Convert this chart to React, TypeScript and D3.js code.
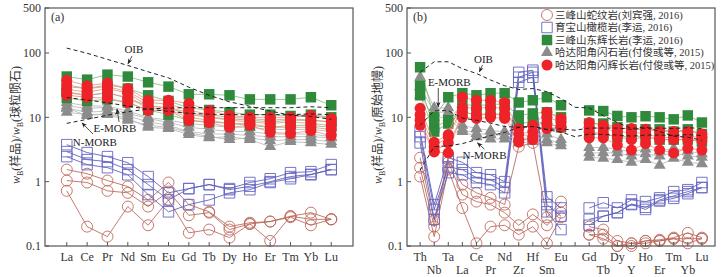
import React from 'react';
import * as d3 from 'd3';

// element order for the two diagrams
const REE = ['La', 'Ce', 'Pr', 'Nd', 'Sm', 'Eu', 'Gd', 'Tb', 'Dy', 'Ho', 'Er', 'Tm', 'Yb', 'Lu'];
const SPIDER = ['Th', 'Nb', 'Ta', 'La', 'Ce', 'Pr', 'Nd', 'Zr', 'Hf', 'Sm', 'Eu', 'Ti', 'Gd', 'Tb', 'Dy', 'Y', 'Ho', 'Er', 'Tm', 'Yb', 'Lu'];
const SPIDER_HIDDEN = ['Ti'];
const Y_TICKS = [0.1, 1, 10, 100, 500];

// (a) chondrite normalised REE
const reeSerpentinite = [
  [1.54, 1.33, 1.04, 0.84, 0.52, 0.97, 0.44, 0.34, 0.2, 0.23, 0.24, 0.29, 0.33, 0.26],
  [1.04, 0.97, 0.72, 0.67, 0.41, 0.7, 0.3, 0.33, 0.18, 0.22, 0.24, 0.28, 0.21, 0.26],
  [0.72, 0.2, 0.14, 0.41, 0.21, 0.52, 0.16, 0.18, 0.135, 0.22, 0.12, 0.29, 0.26, 0.26],
];
const reePeridotite = [
  [3.76, 2.83, 2.45, 1.97, 1.2, 0.67, 0.78, 0.9, 0.78, 0.97, 1.11, 1.38, 1.43, 1.84],
  [2.93, 2.2, 2.05, 1.54, 0.9, 0.52, 0.78, 0.9, 0.75, 0.85, 1.0, 1.2, 1.3, 1.54],
  [2.45, 1.84, 1.65, 1.28, 0.63, 0.34, 0.44, 0.52, 0.67, 0.75, 0.97, 1.11, 1.28, 1.54],
];
const reeHornblendite = [
  [17, 15, 15, 12.5, 10, 9, 8, 7.5, 7, 7, 6.5, 6.5, 6.5, 6],
  [15, 13.8, 14.3, 11.5, 9.6, 8.3, 7, 6.5, 6, 6, 5.5, 5.5, 5.5, 5],
  [14, 12, 12.5, 10.5, 8.5, 7.5, 6, 5.5, 5.5, 5.2, 5, 5, 5, 4.8],
  [13.8, 10.7, 11.5, 9.6, 7, 6.7, 5.4, 4.8, 5, 4.5, 3.5, 4.2, 4, 3.8],
  [12, 11, 11, 9, 7.5, 7, 5.8, 5, 4.5, 4.8, 4.3, 4.5, 4.5, 4.2],
];
const reeGabbro = [
  [43, 38.5, 46, 43, 35, 30, 22.8, 22.8, 22, 19, 19, 19, 20.5, 15.4],
  [30, 28, 32, 28, 22, 18, 14, 13, 12, 11, 11, 10.5, 11, 10],
  [25, 22, 24, 20, 15, 14, 11, 10, 9.5, 9, 8.5, 9, 9, 8.5],
  [20, 18, 19, 17, 13, 11, 9, 8.5, 8, 7.5, 7, 7.5, 7.5, 7],
];
const reeHbGabbro = [
  [37.6, 31, 34, 28, 18.4, 18.4, 16.4, 12.8, 10.7, 10, 10, 10, 10.7, 9.6],
  [32, 28, 30, 25, 17, 16, 13, 11, 10, 9.6, 9, 9.5, 9, 8.5],
  [27.3, 24.5, 28, 23.7, 15, 14, 12, 10, 9, 8.5, 8, 8.5, 8, 7.5],
  [22, 20.5, 19.8, 17, 12.8, 12.8, 8.9, 8.3, 7, 7.5, 5.85, 5.6, 6.2, 5.2],
  [24, 22, 24, 20, 14, 13, 10, 9, 8, 8, 7, 7, 7, 6.5],
];
const reeOIB = [119, 99, 79.5, 64, 51, 41, 29.4, 22, 17.4, 14.8, 12.5, 10.8, 10.3, 9.3];
const reeEMORB = [20.3, 18.6, 16.8, 15, 13.3, 12.4, 11.5, 11.2, 11, 11, 11, 11, 11.3, 11];
const reeNMORB = [8.06, 9.3, 10.8, 12.2, 13.5, 13.9, 14.2, 14.1, 14.1, 14.1, 14.1, 14.1, 14.6, 14.1];

// (b) primitive mantle normalised trace elements (Ti not analysed)
const tr = null;
const spSerpentinite = [
  [2.36, 0.25, 2.2, 0.9, 0.67, 0.56, 0.44, 3.5, 4, 0.28, 0.49, tr, 0.2, 0.18, 0.12, 0.11, 0.12, 0.125, 0.135, 0.16, 0.135],
  [1.65, 0.2, 2.0, 0.63, 0.49, 0.44, 0.33, 0.21, 0.31, 0.21, 0.33, tr, 0.15, 0.15, 0.1, 0.1, 0.12, 0.12, 0.13, 0.13, 0.13],
  [1.2, 0.14, 1.54, 0.39, 0.11, 0.2, 0.21, 0.15, 0.2, 0.11, 0.28, tr, 0.15, 0.13, 0.1, 0.11, 0.11, 0.12, 0.13, 0.11, 0.13],
];
const spPeridotite = [
  [6, 0.44, 2.36, 2.0, 1.38, 1.28, 1.0, 50, 54, 0.58, 0.39, tr, 0.39, 0.47, 0.39, 0.52, 0.49, 0.56, 0.7, 0.75, 0.97],
  [5, 0.37, 1.7, 1.54, 1.15, 1.07, 0.81, 42, 50, 0.44, 0.29, tr, 0.26, 0.29, 0.33, 0.45, 0.4, 0.52, 0.6, 0.7, 0.81],
  [4, 0.26, 1.38, 1.28, 0.97, 0.9, 0.67, 35, 42, 0.34, 0.18, tr, 0.21, 0.29, 0.33, 0.44, 0.37, 0.5, 0.55, 0.65, 0.81],
];
const spHornblendite = [
  [42, 14, 14, 7.5, 6.7, 6.2, 6, 5, 5.5, 5.5, 4.5, tr, 3.4, 3.4, 3.2, 2.9, 3.2, 3, 3.3, 3, 2.7],
  [30, 12, 12, 6.5, 5.6, 5.4, 5.2, 4.5, 5, 4.5, 4, tr, 2.8, 2.8, 2.8, 2.5, 2.7, 2.5, 2.8, 2.5, 2.4],
  [22, 10, 10, 6, 5, 4.6, 4.6, 4, 4.2, 4, 3.6, tr, 2.4, 2.3, 2.2, 2, 2.2, 1.8, 2.3, 2, 1.9],
];
const spGabbro = [
  [60, 10, 20.5, 23.7, 22, 23.7, 23.7, 17, 18.4, 20.5, 15.4, tr, 12.8, 12.5, 10.5, 10, 10.4, 10, 9.3, 10.7, 8.3],
  [31, 7, 9, 16, 15, 16, 16, 10.7, 11.5, 12, 10, tr, 8, 8, 7, 6.5, 6.5, 6.5, 6, 6.5, 5.5],
  [22, 6, 8, 12, 11, 11.5, 11, 8, 8.5, 8, 7, tr, 5.5, 5.5, 5, 5, 5, 4.5, 4.5, 4.5, 4.2],
];
const spHbGabbro = [
  [13.8, 4.1, 5.4, 20.5, 18.4, 18.4, 17, 6.7, 7.5, 12, 9.6, tr, 8.3, 7.5, 6.7, 6.7, 6.5, 6, 6, 6, 5.5],
  [11, 3.5, 5, 14.3, 13.8, 14.3, 13.8, 5.5, 6, 10, 8.5, tr, 7, 6.7, 6, 5.8, 5.6, 4.8, 4.9, 5, 4.9],
  [9, 3, 4, 10, 9.6, 10, 9.6, 4.1, 5, 8, 7, tr, 6, 5.5, 5, 4.5, 5, 4.5, 4.5, 4.5, 4.3],
  [7.5, 2.9, 2.8, 12, 11, 11, 11, 4.5, 4.5, 6.7, 7, tr, 4.8, 4.8, 3.7, 3.1, 3.9, 3.1, 2.8, 3.3, 3.1],
];
const spOIB = [50, 73, 73, 57, 48, 38, 31, 27, 28, 25, 19.5, 14.3, 14, 10.6, 8.3, 6.7, 7.1, 6, 5.1, 4.9, 4.4];
const spEMORB = [7.5, 12.6, 12.7, 9.7, 9, 8.1, 7.2, 7, 7.2, 6.4, 5.9, 5, 5.5, 5.4, 5.3, 5.1, 5.3, 5.3, 5.2, 5.4, 5.2];
const spNMORB = [1.5, 3.5, 3.6, 3.9, 4.5, 5.2, 5.8, 7, 7.2, 6.5, 6.6, 6.3, 6.8, 6.8, 6.8, 6.5, 6.8, 6.8, 6.7, 6.9, 6.7];

// legend entries: label and index into styles
const legendLabels = [
  '三峰山蛇纹岩(刘宾强, 2016)',
  '育宝山橄榄岩(李运, 2016)',
  '三峰山东辉长岩(李运, 2016)',
  '哈达阳角闪石岩(付俊彧等, 2015)',
  '哈达阳角闪辉长岩(付俊彧等, 2015)',
];
const legendStyle = [0, 1, 3, 2, 4];

const SERIF = '"Liberation Serif", "Times New Roman", "Noto Sans CJK SC", serif';

type Style = { shape: 'circle' | 'square' | 'triangle'; filled: boolean; color: string; line: string };
const styles: Style[] = [
  { shape: 'circle', filled: false, color: '#c06a5c', line: '#b25a4c' },
  { shape: 'square', filled: false, color: '#6666c4', line: '#4f4fb2' },
  { shape: 'triangle', filled: true, color: '#8c8c8c', line: '#b4b4b4' },
  { shape: 'square', filled: true, color: '#2f8b3b', line: '#79bb79' },
  { shape: 'circle', filled: true, color: '#ee2229', line: '#f08a78' },
];

function symbolPath(shape: Style['shape']) {
  if (shape === 'circle') return d3.symbol(d3.symbolCircle, 95)()!;
  if (shape === 'square') return d3.symbol(d3.symbolSquare, 110)()!;
  return d3.symbol(d3.symbolTriangle, 62)()!;
}

function Marker({ s, x, y }: { s: Style; x: number; y: number }) {
  return (
    <path
      d={symbolPath(s.shape)}
      transform={`translate(${x},${y})`}
      fill={s.filled ? s.color : 'none'}
      stroke={s.filled ? 'none' : s.color}
      strokeWidth={0.9}
    />
  );
}

type Note = { text: string; at: [number, number]; tail: [number, number]; head: [number, number] };

interface PanelProps {
  id: string;
  left: number;
  cats: string[];
  pad: number;
  groups: (number | null)[][][];
  refs: number[][];
  notes: Note[];
  letter: string;
  norm: string;
  twoRows: boolean;
}

const y = d3.scaleLog().domain([0.1, 500]).range([246, 8]);

function Panel({ id, left, cats, pad, groups, refs, notes, letter, norm, twoRows }: PanelProps) {
  const width = 308;
  const x = d3.scaleLinear().domain([-pad, cats.length - 1 + pad]).range([left, left + width]);
  const line = d3.line<number | null>()
    .defined(d => d != null)
    .x((_, i) => x(i))
    .y(d => y(d as number));

  return (
    <g>
      <defs>
        <marker id={`arr-${id}`} viewBox="0 0 10 10" refX="9" refY="5" markerWidth="7" markerHeight="7" orient="auto">
          <path d="M0,1 L10,5 L0,9 L3,5 Z" fill="#222" />
        </marker>
      </defs>
      {/* series */}
      {groups.map((rows, gi) => (
        <g key={gi}>
          {rows.map((r, ri) => (
            <path key={ri} d={line(r) || ''} fill="none" stroke={styles[gi].line} strokeWidth={0.8} />
          ))}
          {rows.map((r, ri) =>
            r.map((v, i) => (v == null ? null : <Marker key={`${ri}-${i}`} s={styles[gi]} x={x(i)} y={y(v)} />))
          )}
        </g>
      ))}
      {/* reference curves */}
      {refs.map((r, i) => (
        <path key={i} d={line(r) || ''} fill="none" stroke="#222" strokeWidth={1} strokeDasharray="4,3" />
      ))}
      {notes.map((n, i) => (
        <g key={i}>
          <line
            x1={x(n.tail[0])} y1={y(n.tail[1])} x2={x(n.head[0])} y2={y(n.head[1])}
            stroke="#222" strokeWidth={0.8} markerEnd={`url(#arr-${id})`}
          />
          <text x={x(n.at[0])} y={y(n.at[1])} dy="0.35em" textAnchor="middle" fontSize={11} fontFamily={SERIF} fill="#222">
            {n.text}
          </text>
        </g>
      ))}
      {/* frame and ticks */}
      <rect x={left} y={8} width={width} height={238} fill="none" stroke="#555" strokeWidth={1.2} />
      {Y_TICKS.map(t => (
        <g key={t}>
          <line x1={left} x2={left + 4} y1={y(t)} y2={y(t)} stroke="#555" />
          <text x={left - 4} y={y(t)} dy="0.35em" textAnchor="end" fontSize={12} fontFamily={SERIF} fill="#333">
            {t}
          </text>
        </g>
      ))}
      {cats.map((c, i) => (
        <g key={c + i}>
          <line x1={x(i)} x2={x(i)} y1={246} y2={242} stroke="#555" />
          {SPIDER_HIDDEN.includes(c) ? null : (
            <text
              x={x(i)}
              y={twoRows && i % 2 === 1 ? 274 : 261}
              textAnchor="middle"
              fontSize={12}
              fontFamily={SERIF}
              fill="#333"
            >
              {c}
            </text>
          )}
        </g>
      ))}
      <text x={left + 6} y={21} fontSize={12} fontFamily={SERIF} fill="#333">{letter}</text>
      <text
        transform={`translate(${left - 25},125) rotate(-90)`}
        textAnchor="middle"
        fontSize={12}
        fontFamily={SERIF}
        fill="#333"
      >
        <tspan fontStyle="italic">w</tspan>
        <tspan fontSize={8} dy={3}>B</tspan>
        <tspan dy={-3}>(样品)/</tspan>
        <tspan fontStyle="italic">w</tspan>
        <tspan fontSize={8} dy={3}>B</tspan>
        <tspan dy={-3}>({norm})</tspan>
      </text>
    </g>
  );
}

function Legend() {
  return (
    <g>
      {legendLabels.map((t, i) => {
        const yy = 15 + i * 12.5;
        return (
          <g key={t}>
            <Marker s={styles[legendStyle[i]]} x={547} y={yy} />
            <text x={555} y={yy} dy="0.35em" fontSize={10.5} fontFamily={SERIF} fill="#333">{t}</text>
          </g>
        );
      })}
    </g>
  );
}

export default function App() {
  return (
    <svg width={721} height={277} style={{ position: 'fixed', left: 0, top: 0, background: '#fff' }}>
      <Panel
        id="a"
        left={45}
        cats={REE}
        pad={1.07}
        groups={[reeSerpentinite, reePeridotite, reeHornblendite, reeGabbro, reeHbGabbro]}
        refs={[reeOIB, reeEMORB, reeNMORB]}
        notes={[
          { text: 'OIB', at: [3.3, 116], tail: [3.21, 90], head: [3.01, 68] },
          { text: 'E-MORB', at: [2.37, 6.84], tail: [2.57, 8.5], head: [2.47, 13.5] },
          { text: 'N-MORB', at: [1.38, 4.14], tail: [1.29, 5.5], head: [0.75, 8.2] },
        ]}
        letter="(a)"
        norm="球粒陨石"
        twoRows={false}
      />
      <Panel
        id="b"
        left={407}
        cats={SPIDER}
        pad={0.93}
        groups={[spSerpentinite, spPeridotite, spHornblendite, spGabbro, spHbGabbro]}
        refs={[spOIB, spEMORB, spNMORB]}
        notes={[
          { text: 'OIB', at: [4.5, 81], tail: [4.43, 65], head: [4.21, 51] },
          { text: 'E-MORB', at: [2.07, 35.5], tail: [1.29, 28.6], head: [1.29, 14.5] },
          { text: 'N-MORB', at: [4.57, 2.6], tail: [4.57, 3.2], head: [4.07, 4.0] },
        ]}
        letter="(b)"
        norm="原始地幔"
        twoRows={true}
      />
      <Legend />
    </svg>
  );
}
